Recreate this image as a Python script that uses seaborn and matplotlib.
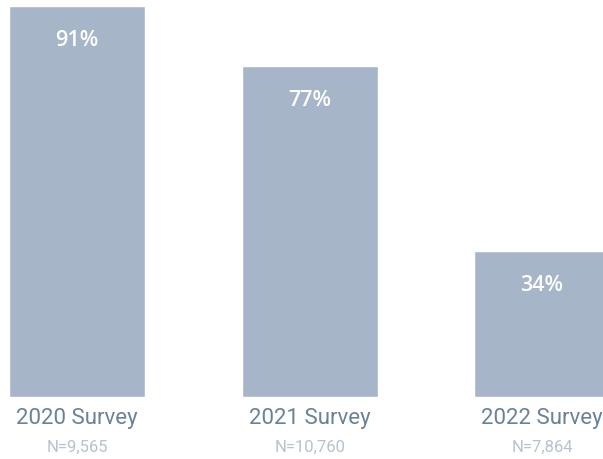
import matplotlib
matplotlib.use("Agg")
import matplotlib.pyplot as plt
import seaborn as sns
import pandas as pd

surveys = ["2020 Survey", "2021 Survey", "2022 Survey"]
sample_sizes = ["N=9,565", "N=10,760", "N=7,864"]
percents = [91, 77, 34]

df = pd.DataFrame({"survey": surveys, "pct": percents})

sns.set_style("white")
plt.rcParams["font.family"] = ["Roboto", "DejaVu Sans"]

fig = plt.figure(figsize=(6.03, 4.59), dpi=100)
ax = fig.add_axes([0, 62 / 459, 1, 397 / 459])

sns.barplot(data=df, x="survey", y="pct", color="#a7b5c9", saturation=1,
            width=0.586, ax=ax)

ax.set_xlim(-0.332, 2.262)
ax.set_ylim(0, 92.4)
ax.axis("off")

for i, v in enumerate(percents):
    ax.text(i, v - 8.0, f"{v}%", ha="center", va="center", color="white",
            fontsize=15.5, fontweight="semibold", family=["Open Sans", "DejaVu Sans"])
    ax.text(i, -4.9, surveys[i], ha="center", va="center", color="#6a8297",
            fontsize=16)
    ax.text(i, -11.6, sample_sizes[i], ha="center", va="center", color="#b7c2d0",
            fontsize=12)

fig.savefig("out.png", dpi=100)
